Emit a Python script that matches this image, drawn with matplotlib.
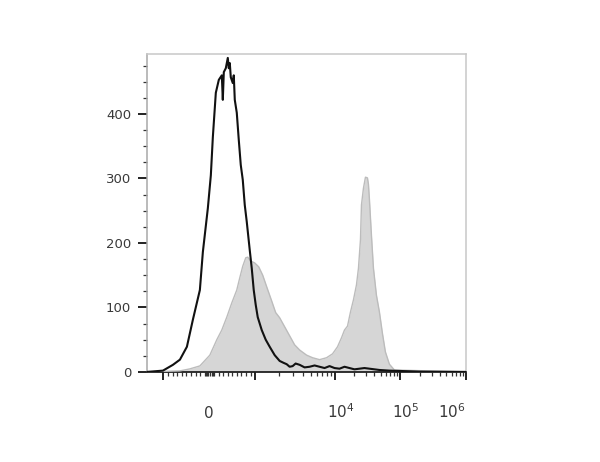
import numpy as np
import matplotlib
matplotlib.use('Agg')
import matplotlib.pyplot as plt
import matplotlib.transforms as mtransforms

# histogram data, x in display channels (0-256), y in events
ctrl_chan = [0, 12.8, 20.8, 26.4, 32.0, 36.8, 42.4, 44.8, 48.8, 51.2, 52.8, 55.2, 57.6,
             60.0, 60.8, 61.6, 63.2, 64.8, 65.6, 66.4, 67.2, 68.8, 69.6, 70.4, 72.0,
             73.6, 75.2, 76.8, 78.4, 80.0, 82.4, 84.0, 85.6, 87.2, 88.8, 92.0, 95.2,
             98.4, 102.4, 106.4, 109.6, 112.0, 114.4, 116.8, 119.2, 122.4, 126.4, 130.4,
             134.4, 138.4, 142.4, 146.4, 150.4, 154.4, 158.4, 162.4, 166.4, 170.4,
             174.4, 178.4, 182.4, 186.4, 194.4, 202.4, 218.4, 256]
ctrl_count = [0, 2, 11, 19, 39, 81, 127, 186, 254, 305, 364, 433, 453,
              460, 422, 465, 471, 487, 471, 479, 457, 448, 460, 422, 402,
              360, 321, 298, 259, 233, 189, 161, 127, 104, 85, 65, 50,
              39, 26, 17, 14, 12, 8, 9, 13, 11, 7, 8,
              10, 8, 6, 9, 6, 5, 8, 6, 4, 5,
              6, 5, 4, 3, 2, 1.5, 0.5, 0]

stain_chan = [0, 26.4, 34.4, 42.4, 50.4, 56.0, 60.0, 64.0, 68.0, 72.0, 74.4, 76.8,
              79.2, 80.8, 83.2, 86.4, 89.6, 92.8, 96.0, 100.0, 103.2, 106.4, 110.4,
              114.4, 118.4, 122.4, 128.0, 132.8, 138.4, 144.0, 148.8, 152.8, 156.0,
              158.4, 160.8, 163.2, 165.6, 168.0, 169.6, 171.2, 172.0, 173.6, 175.2,
              176.8, 177.6, 178.4, 180.0, 181.6, 184.0, 186.4, 188.8, 191.2, 194.4,
              198.4, 256]
stain_count = [0, 1.6, 4.7, 9.3, 26, 50, 65, 85, 107, 127, 146, 164,
               177, 178, 172, 169, 163, 150, 132, 110, 92, 84, 70,
               56, 42, 34, 26, 22, 19, 22, 28, 39, 53,
               65, 71, 93, 112, 135, 161, 205, 259, 285, 302,
               301, 291, 267, 212, 161, 119, 93, 60, 31, 12,
               3, 0]

y_ticks = [0, 100, 200, 300, 400]
x_labels = ['0', '$10^4$', '$10^5$', '$10^6$']
x_label_vals = [0, 1e4, 1e5, 1e6]


def chan(v):
    # biex-like display: linear around zero, log decades above 10^3
    if abs(v) <= 1e3:
        return 50.0 + v / 1e3 * 36.8
    if v <= 1e4:
        return 86.8 + np.log10(v / 1e3) * 63.6
    return 150.4 + np.log10(v / 1e4) * 52.8


fig = plt.figure(figsize=(6, 4.62), dpi=100)
ax = fig.add_axes([0.245, 0.195, 0.532, 0.688])

ax.fill_between(stain_chan, stain_count, 0, color='#d6d6d6', lw=0, zorder=2)
ax.plot(stain_chan, stain_count, color='#bcbcbc', lw=1.0, zorder=3)
ax.plot(ctrl_chan, ctrl_count, color='#111111', lw=1.5, zorder=4)

ax.set_xlim(0, 256)
ax.set_ylim(0, 493)

for s in ['top', 'right']:
    ax.spines[s].set_color('#c8c8c8')
    ax.spines[s].set_linewidth(1.1)
ax.spines['left'].set_color('#a8a8a8')
ax.spines['left'].set_linewidth(1.1)
ax.spines['bottom'].set_color('#111111')
ax.spines['bottom'].set_linewidth(1.2)

ax.set_yticks(y_ticks)
ax.set_yticklabels([str(t) for t in y_ticks])
ax.set_yticks(np.arange(25, 493, 25), minor=True)
ax.tick_params(axis='y', which='major', length=6.5, width=1.4, color='#222222',
               labelsize=9.5, labelcolor='#3a3a3a', pad=5)
ax.tick_params(axis='y', which='minor', length=3, width=0.9, color='#333333')

major_x = [chan(v) for v in [-1e3, 1e3, 1e4, 1e5, 1e6]]
minor_vals = [s * k * 100 for s in (-1, 1) for k in range(1, 10)]
minor_vals += [s * k for s in (-1, 1) for k in (25, 50, 75)]
minor_vals += [m * 10 ** d for d in (3, 4, 5) for m in range(2, 10)]
ax.set_xticks(major_x)
ax.set_xticklabels([])
ax.set_xticks([chan(v) for v in minor_vals], minor=True)
ax.tick_params(axis='x', which='major', length=6, width=1.4, color='#222222')
ax.tick_params(axis='x', which='minor', length=3, width=0.9, color='#333333')

label_pos = [49.6, 155.2, 207.2, 244.8]
trans = mtransforms.blended_transform_factory(ax.transData, ax.transAxes)
for xp, lab in zip(label_pos, x_labels):
    ax.text(xp, -0.145, lab, transform=trans, ha='center', va='baseline',
            fontsize=11, color='#3a3a3a')

plt.savefig('out.png', dpi=100)
